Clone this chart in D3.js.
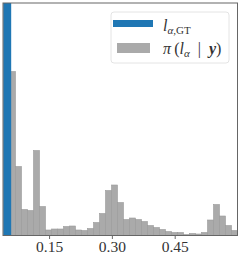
<!DOCTYPE html>
<html>
<head>
<meta charset="utf-8">
<script src="https://cdn.jsdelivr.net/npm/d3@7"></script>
<style>
  body { margin: 0; background: #fff; }
  svg { display: block; }
</style>
</head>
<body>
<div id="chart"></div>
<script>
// Data
var gtValue = 0.05;              // l_alpha,GT
var binStart = 0.0555;
var binEnd = 0.6;
var posterior = [16.4, 6.9, 2.6, 2.5, 8.5, 2.9, 0.55, 0.65, 0.65, 0.9,
                 0.95, 0.55, 0.5, 0.7, 1.3, 2.2, 4.5, 5.05, 3.3, 1.6,
                 1.75, 1.6, 1.4, 1.0, 0.8, 0.6, 0.4, 0.3, 0.3, 0.1,
                 0.2, 0.15, 0.3, 1.55, 3.1, 1.95, 1.0, 0.5];
var xTicks = [0.15, 0.30, 0.45];
var xDomain = [0.04, 0.6];
var yMax = 23.25;

// SVG area
var svgWidth = 241;
var svgHeight = 257;
var plot = { left: 3, right: 237.5, top: 3, bottom: 235.5 };

var svg = d3.select("#chart")
  .append("svg")
    .attr("width", svgWidth)
    .attr("height", svgHeight);

var xScale = d3.scaleLinear()
  .domain(xDomain)
  .range([plot.left, plot.right]);

var yScale = d3.scaleLinear()
  .domain([0, yMax])
  .range([plot.bottom, plot.top]);

var binWidth = (binEnd - binStart) / posterior.length;
var bins = posterior.map(function(v, i) {
  return { x0: binStart + i * binWidth, x1: binStart + (i + 1) * binWidth, value: v };
});

svg.append("clipPath")
    .attr("id", "clip")
  .append("rect")
    .attr("x", plot.left)
    .attr("y", plot.top)
    .attr("width", plot.right - plot.left)
    .attr("height", plot.bottom - plot.top);

var chart = svg.append("g").attr("clip-path", "url(#clip)");

// histogram bars
chart.selectAll("rect.bar")
  .data(bins)
  .enter()
  .append("rect")
    .attr("class", "bar")
    .attr("x", d => xScale(d.x0))
    .attr("y", d => yScale(d.value))
    .attr("width", d => xScale(d.x1) - xScale(d.x0))
    .attr("height", d => yScale(0) - yScale(d.value))
    .attr("fill", "#aaaaaa")
    .attr("stroke", "#9a9a9a")
    .attr("stroke-width", 0.6);

// ground truth line
chart.append("line")
  .attr("x1", xScale(gtValue))
  .attr("x2", xScale(gtValue))
  .attr("y1", yScale(0))
  .attr("y2", yScale(yMax))
  .attr("stroke", "#1f77b4")
  .attr("stroke-width", 8);

// x axis
var bottomAxis = d3.axisBottom(xScale)
  .tickValues(xTicks)
  .tickFormat(d3.format(".2f"))
  .tickSize(3.5)
  .tickPadding(1.5);

var xg = svg.append("g")
  .attr("transform", `translate(0, ${plot.bottom})`)
  .call(bottomAxis);
xg.select(".domain").remove();
xg.selectAll(".tick line").attr("stroke", "#444").attr("stroke-width", 0.8);
xg.selectAll(".tick text")
  .attr("fill", "#333")
  .style("font-family", "'Liberation Serif', serif")
  .style("font-size", "15.5px");

// frame
svg.append("rect")
  .attr("x", plot.left)
  .attr("y", plot.top)
  .attr("width", plot.right - plot.left)
  .attr("height", plot.bottom - plot.top)
  .attr("fill", "none")
  .attr("stroke", "#666")
  .attr("stroke-width", 1);

// legend
var legend = svg.append("g");
legend.append("rect")
  .attr("x", 111)
  .attr("y", 12)
  .attr("width", 118)
  .attr("height", 51)
  .attr("rx", 3)
  .attr("fill", "#fff")
  .attr("fill-opacity", 0.8)
  .attr("stroke", "#dddddd")
  .attr("stroke-width", 0.8);

legend.append("line")
  .attr("x1", 113).attr("x2", 153)
  .attr("y1", 23.5).attr("y2", 23.5)
  .attr("stroke", "#1f77b4")
  .attr("stroke-width", 7);

legend.append("rect")
  .attr("x", 117).attr("y", 43)
  .attr("width", 33).attr("height", 10)
  .attr("fill", "#aaaaaa");

var font = "'Liberation Serif', serif";

var t1 = legend.append("text")
  .attr("x", 163).attr("y", 31)
  .style("font-family", font)
  .style("font-size", "16px")
  .attr("fill", "#333");
t1.append("tspan").style("font-style", "italic").text("l");
t1.append("tspan").attr("dy", 3).style("font-size", "11px").style("font-style", "italic").text("α");
t1.append("tspan").style("font-size", "11px").text(",GT");

var t2 = legend.append("text")
  .attr("x", 163).attr("y", 54)
  .style("font-family", font)
  .style("font-size", "16px")
  .attr("fill", "#333");
t2.append("tspan").style("font-style", "italic").text("π");
t2.append("tspan").text("\u2009(");
t2.append("tspan").style("font-style", "italic").text("l");
t2.append("tspan").attr("dy", 3).style("font-size", "11px").style("font-style", "italic").text("α");
t2.append("tspan").attr("dy", -3).text("\u2002|\u2002");
t2.append("tspan").style("font-style", "italic").style("font-weight", "bold").text("y");
t2.append("tspan").text(")");
</script>
</body>
</html>
